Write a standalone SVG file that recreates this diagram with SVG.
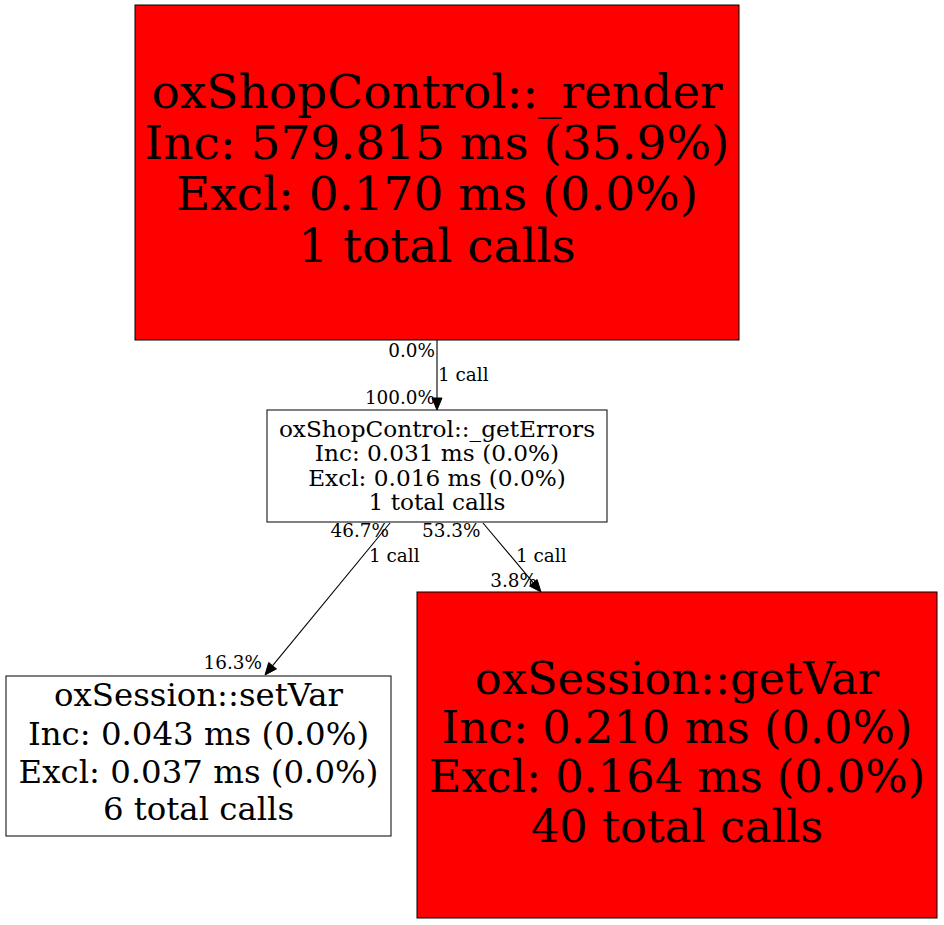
<svg xmlns="http://www.w3.org/2000/svg" width="944" height="925" viewBox="0 0 944 925">
<style>
text { font-family: "DejaVu Serif", serif; fill: #000; }
.node { stroke: #000; stroke-width: 1; }
.hot { fill: #ff0000; }
.cold { fill: #ffffff; }
.c { text-anchor: middle; }
.lbl { font-size: 18.4px; }
.e { stroke: #000; stroke-width: 1.1; fill: none; }
.ah { fill: #000; stroke: #000; stroke-width: 1; }
</style>
<rect width="944" height="925" fill="#ffffff"/>
<g id="connectors">
  <path class="e" d="M437,340 L437,398"/>
  <polygon class="ah" points="432,398 437,410 442,398"/>
  <text class="lbl" x="435" y="357" text-anchor="end">0.0%</text>
  <text class="lbl" x="438" y="381">1 call</text>
  <text class="lbl" x="435" y="404" text-anchor="end">100.0%</text>

  <path class="e" d="M390,523 L272.6,665.7"/>
  <polygon class="ah" points="276.5,668.9 265,675 268.7,662.5"/>
  <text class="lbl" x="389" y="537" text-anchor="end">46.7%</text>
  <text class="lbl" x="369" y="562">1 call</text>
  <text class="lbl" x="262" y="669" text-anchor="end">16.3%</text>

  <path class="e" d="M483,523 L533.3,582.8"/>
  <polygon class="ah" points="537.1,579.6 541,592 529.5,586"/>
  <text class="lbl" x="422" y="537">53.3%</text>
  <text class="lbl" x="516" y="562">1 call</text>
  <text class="lbl" x="537" y="587" text-anchor="end">3.8%</text>
</g>
<g id="node-render">
  <rect class="node hot" x="135" y="5" width="604" height="335"/>
  <g class="c" style="font-size:47px">
    <text x="437" y="108">oxShopControl::_render</text>
    <text x="437" y="159">Inc: 579.815 ms (35.9%)</text>
    <text x="437" y="210">Excl: 0.170 ms (0.0%)</text>
    <text x="437" y="262">1 total calls</text>
  </g>
</g>
<g id="node-getErrors">
  <rect class="node cold" x="267" y="410" width="340" height="112"/>
  <g class="c" style="font-size:23.2px">
    <text x="437" y="437">oxShopControl::_getErrors</text>
    <text x="437" y="461">Inc: 0.031 ms (0.0%)</text>
    <text x="437" y="486">Excl: 0.016 ms (0.0%)</text>
    <text x="437" y="510">1 total calls</text>
  </g>
</g>
<g id="node-setVar">
  <rect class="node cold" x="6" y="676" width="385" height="160"/>
  <g class="c" style="font-size:32.4px">
    <text x="198.5" y="706">oxSession::setVar</text>
    <text x="198.5" y="745">Inc: 0.043 ms (0.0%)</text>
    <text x="198.5" y="783">Excl: 0.037 ms (0.0%)</text>
    <text x="198.5" y="820">6 total calls</text>
  </g>
</g>
<g id="node-getVar">
  <rect class="node hot" x="417" y="592" width="520" height="326"/>
  <g class="c" style="font-size:44.7px">
    <text x="677" y="694">oxSession::getVar</text>
    <text x="677" y="743">Inc: 0.210 ms (0.0%)</text>
    <text x="677" y="792">Excl: 0.164 ms (0.0%)</text>
    <text x="677" y="842">40 total calls</text>
  </g>
</g>
</svg>
